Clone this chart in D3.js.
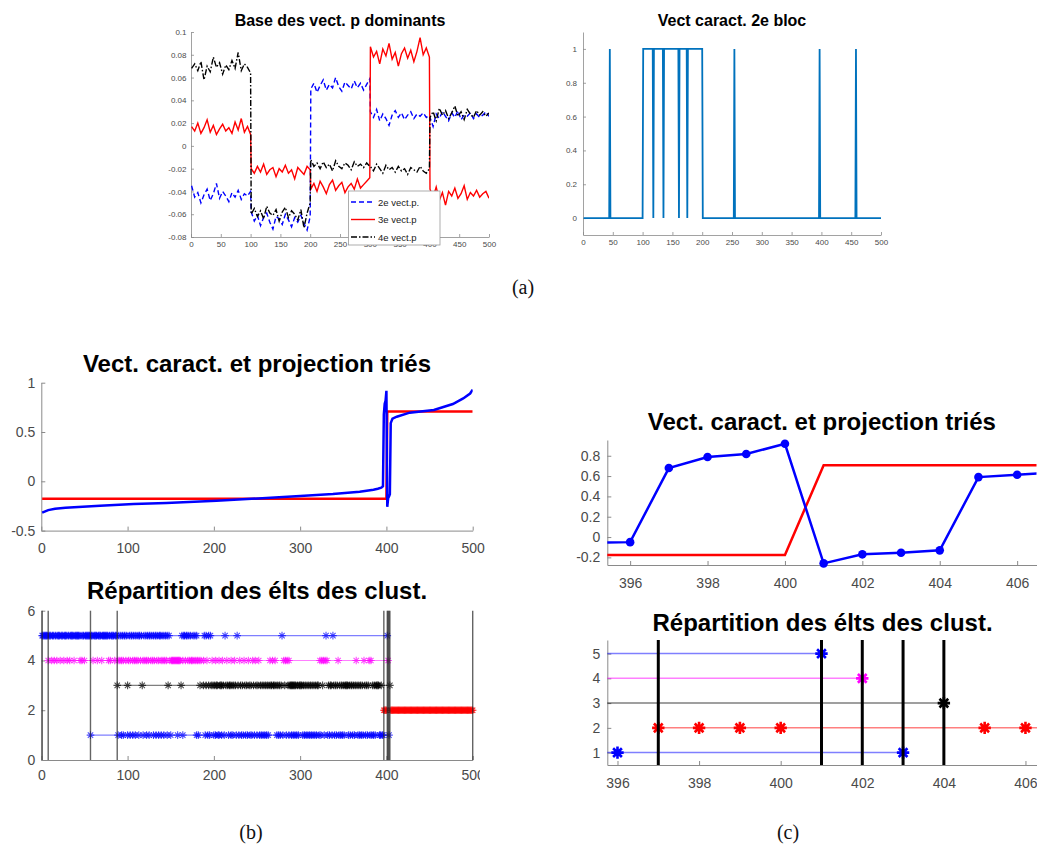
<!DOCTYPE html>
<html><head><meta charset="utf-8">
<script src="https://cdn.jsdelivr.net/npm/d3@7"></script>
<style>
body{margin:0;background:#fff}
svg{display:block}
text{font-family:"Liberation Sans",Arial,Helvetica,sans-serif}
</style>
</head><body>
<svg id="fig" width="1037" height="849"></svg>
<script>
// ===================== DATA =====================
// (a) left : dominant eigenvectors, 5 blocks of 100 indices, 20 samples read per block
const vec2 = [
 -0.035,-0.045,-0.041,-0.050,-0.043,-0.038,-0.048,-0.042,-0.033,-0.046,-0.040,-0.044,-0.049,-0.041,-0.045,-0.039,-0.047,-0.042,-0.044,-0.040,
 -0.058,-0.066,-0.061,-0.070,-0.063,-0.059,-0.067,-0.073,-0.062,-0.064,-0.069,-0.060,-0.065,-0.071,-0.063,-0.067,-0.061,-0.068,-0.074,-0.062,
 0.050,0.055,0.047,0.053,0.058,0.049,0.054,0.051,0.060,0.052,0.048,0.056,0.053,0.050,0.057,0.051,0.055,0.049,0.054,0.059,
 0.030,0.025,0.032,0.022,0.028,0.024,0.018,0.027,0.031,0.025,0.029,0.023,0.027,0.030,0.024,0.028,0.026,0.029,0.025,0.027,
 0.025,0.017,0.028,0.024,0.030,0.026,0.022,0.029,0.025,0.031,0.023,0.027,0.026,0.029,0.024,0.028,0.025,0.027,0.030,0.026];
const vec3 = [
 0.017,0.013,0.020,0.011,0.016,0.023,0.012,0.018,0.010,0.015,0.019,0.013,0.016,0.011,0.021,0.014,0.024,0.012,0.017,0.010,
 -0.020,-0.024,-0.018,-0.023,-0.016,-0.025,-0.021,-0.019,-0.027,-0.020,-0.023,-0.017,-0.024,-0.021,-0.029,-0.019,-0.022,-0.025,-0.018,-0.021,
 -0.038,-0.033,-0.040,-0.031,-0.036,-0.042,-0.034,-0.030,-0.039,-0.035,-0.032,-0.041,-0.036,-0.033,-0.038,-0.029,-0.037,-0.034,-0.031,-0.028,
 0.087,0.078,0.083,0.072,0.085,0.079,0.090,0.076,0.082,0.070,0.081,0.086,0.077,0.084,0.074,0.083,0.095,0.080,0.086,0.078,
 -0.038,-0.045,-0.036,-0.048,-0.041,-0.052,-0.040,-0.044,-0.037,-0.046,-0.042,-0.035,-0.047,-0.041,-0.044,-0.039,-0.045,-0.042,-0.040,-0.046];
const vec4 = [
 0.068,0.072,0.066,0.074,0.058,0.070,0.065,0.078,0.069,0.073,0.063,0.071,0.067,0.075,0.068,0.082,0.066,0.072,0.069,0.064,
 -0.060,-0.055,-0.062,-0.057,-0.064,-0.053,-0.059,-0.061,-0.056,-0.066,-0.058,-0.054,-0.063,-0.057,-0.060,-0.065,-0.056,-0.072,-0.059,-0.050,
 -0.012,-0.018,-0.015,-0.020,-0.014,-0.019,-0.016,-0.022,-0.013,-0.018,-0.020,-0.015,-0.017,-0.021,-0.014,-0.018,-0.016,-0.019,-0.015,-0.018,
 -0.018,-0.022,-0.016,-0.020,-0.024,-0.017,-0.021,-0.019,-0.023,-0.018,-0.022,-0.020,-0.025,-0.019,-0.021,-0.023,-0.018,-0.022,-0.024,-0.020,
 0.025,0.030,0.022,0.033,0.027,0.031,0.024,0.029,0.035,0.026,0.030,0.023,0.032,0.028,0.025,0.031,0.027,0.030,0.026,0.029];
const vecNames = ["2e vect.p.", "3e vect.p", "4e vect.p"];
const samplesPerBlock = 20;

// (a) right : characteristic vector of the 2nd block, runs of indices equal to 1
const blocRuns = [[45,45],[101,117],[119,134],[136,160],[162,174],[176,200],[254,254],[397,397],[458,458]];

// (b)/(c) top : sorted projection (blue) and indicator (red)
const projX = [1,8,16,28,68,107,145,203,261,300,338,369,385,390,394,395,396,397,398,399,400,401,402,403,404,405,406,407,412,427,455,477,489,497,500];
const projY = [-0.318,-0.292,-0.278,-0.268,-0.247,-0.230,-0.220,-0.197,-0.170,-0.149,-0.129,-0.105,-0.085,-0.075,-0.065,-0.058,-0.050,0.679,0.787,0.817,0.918,-0.259,-0.170,-0.154,-0.131,0.590,0.613,0.635,0.655,0.696,0.723,0.784,0.840,0.890,0.930];
const indX = [1,400,401,500];
const indY = [-0.1768,-0.1768,0.7071,0.7071];

// (b)/(c) bottom : positions of the elements of each cluster
const row5 = [1,2,3,4,5,6,7,9,10,11,13,14,16,17,19,20,21,23,24,25,27,28,29,31,32,34,35,36,37,39,40,41,42,43,44,46,48,49,51,52,53,54,55,56,58,59,61,62,63,64,66,67,68,69,71,72,73,74,75,76,77,79,81,82,83,84,86,87,90,92,94,96,97,99,102,104,105,107,109,111,113,114,116,119,121,123,125,126,128,130,132,133,135,137,138,140,142,144,146,148,163,165,166,168,169,171,173,176,178,180,189,191,194,196,213,227,279,330,338,401];
const row4 = [8,12,15,18,22,26,30,33,38,45,47,50,60,65,70,78,80,85,89,91,93,95,98,101,103,106,108,110,112,115,118,120,122,124,127,129,131,134,136,139,141,143,145,149,151,152,153,154,155,156,157,158,159,160,161,164,167,170,172,174,175,177,179,181,183,185,188,192,198,202,206,210,215,220,224,230,235,240,245,248,252,265,268,271,281,283,285,287,323,325,327,329,331,344,365,374,380,382,402];
const row3 = [88,100,117,147,162,184,188,191,194,197,199,201,203,204,207,208,209,211,214,216,218,219,221,223,225,228,231,233,236,238,241,243,246,249,251,254,256,258,260,262,264,266,267,269,270,272,274,276,278,282,286,288,289,290,291,292,293,294,295,297,299,300,301,302,304,306,308,310,312,314,316,318,320,321,326,333,335,336,339,341,343,346,348,350,352,353,354,355,357,359,360,362,364,366,368,370,372,375,377,379,384,386,388,389,390,391,394,404];
const row2 = [397,398,399,400].concat(d3.range(405, 501));
const row1 = [57,89,93,95,100,103,106,109,113,118,122,125,130,133,136,139,142,146,150,158,164,180,182,190,193,195,200,202,205,206,209,212,217,220,222,226,229,232,234,237,239,242,244,247,250,253,255,257,259,261,263,273,275,277,280,284,287,290,292,294,296,298,303,305,307,309,311,313,315,317,319,322,324,328,332,334,337,340,342,345,347,349,351,356,358,361,363,367,369,371,373,376,378,381,383,385,387,392,393,395,396,403];
const clusterRows = [row1,row2,row3,row4,row5];
const clusterColors = ["#0000ff","#ff0000","#000000","#ff00ff","#0000ff"];
const clusterBounds = [1,8,57,88,397,401,402,403,404,500];

// ticks
const aTicksX = [0,50,100,150,200,250,300,350,400,450,500];
const aLeftTicksY = [-0.08,-0.06,-0.04,-0.02,0,0.02,0.04,0.06,0.08,0.1];
const aRightTicksY = [0,0.2,0.4,0.6,0.8,1];
const bTicksX = [0,100,200,300,400,500];
const bTopTicksY = [-0.5,0,0.5,1];
const bBotTicksY = [0,2,4,6];
const cTicksX = [396,398,400,402,404,406];
const cTopTicksY = [-0.2,0,0.2,0.4,0.6,0.8];
const cBotTicksY = [1,2,3,4,5];

const titles = ["Base des vect. p dominants","Vect caract. 2e bloc","Vect. caract. et projection triés","Répartition des élts des clust."];
const captions = ["(a)","(b)","(c)"];

// ===================== DRAWING =====================
const AX = "#8a8a8a", LAB = "#4a4a4a";
const svg = d3.select("#fig");
let clipN = 0;
function addClip(x, y, w, h) {
  const id = "clip" + (clipN++);
  svg.append("clipPath").attr("id", id).append("rect").attr("x", x).attr("y", y).attr("width", w).attr("height", h);
  return `url(#${id})`;
}
function panel(root, o) {
  const g = root.append("g");
  const x = d3.scaleLinear().domain(o.xd).range([o.l, o.r]);
  const y = d3.scaleLinear().domain(o.yd).range([o.b, o.t]);
  const ax = g.append("g").attr("transform", `translate(0,${o.b})`)
    .call(d3.axisBottom(x).tickValues(o.xt).tickFormat(d => String(d)).tickSizeInner(-o.tl).tickSizeOuter(0).tickPadding(o.xp));
  const ay = g.append("g").attr("transform", `translate(${o.l},0)`)
    .call(d3.axisLeft(y).tickValues(o.yt).tickFormat(d => String(d)).tickSizeInner(-o.tl).tickSizeOuter(0).tickPadding(o.yp));
  [ax, ay].forEach(a => {
    a.select(".domain").attr("stroke", AX).attr("stroke-width", o.aw || 1);
    a.selectAll(".tick line").attr("stroke", AX).attr("stroke-width", o.aw || 1);
    a.selectAll(".tick text").attr("fill", LAB).style("font-size", o.fs + "px")
      .style("font-family", '"Liberation Sans",Arial,sans-serif');
  });
  g.append("text").attr("x", (o.l + o.r) / 2).attr("y", o.ty).attr("text-anchor", "middle")
    .style("font-weight", "bold").style("font-size", o.tfs + "px").attr("fill", "#000").text(o.title);
  const plot = g.append("g").attr("clip-path", addClip(o.l, o.t, o.r - o.l, o.b - o.t));
  const free = g.append("g");
  return {x, y, plot, free, g};
}
function starPath(r) {
  const a = r * 0.7071;
  return `M${-r},0L${r},0M0,${-r}L0,${r}M${-a},${-a}L${a},${a}M${-a},${a}L${a},${-a}`;
}

// ---------- (a) left ----------
{
  const p = panel(svg, {xd:[0,500], yd:[-0.08,0.1], l:191, r:489, t:32, b:237, xt:aTicksX, yt:aLeftTicksY,
    tl:3, xp:4.5, yp:4.5, fs:8, tfs:16, ty:26, title:titles[0], aw:0.8});
  const xs = vec2.map((_, k) => 100 * Math.floor(k / samplesPerBlock) + 1 + (k % samplesPerBlock) * 99 / (samplesPerBlock - 1));
  const series = [
    {v: vec2, c: "#0000ff", dash: "5,3"},
    {v: vec3, c: "#ff0000", dash: null},
    {v: vec4, c: "#000000", dash: "6,2,1.5,2"}];
  series.forEach(s => {
    p.plot.append("path").datum(s.v)
      .attr("d", d3.line().x((d, i) => p.x(xs[i])).y(d => p.y(d)))
      .attr("fill", "none").attr("stroke", s.c).attr("stroke-width", 1.4)
      .attr("stroke-dasharray", s.dash);
  });
  // legend
  const lg = p.free.append("g");
  lg.append("rect").attr("x", 348.5).attr("y", 191).attr("width", 91.5).attr("height", 54)
    .attr("fill", "#fff").attr("stroke", "#9a9a9a").attr("stroke-width", 0.8);
  const ly = [202, 219.5, 237];
  series.forEach((s, i) => {
    lg.append("line").attr("x1", 351).attr("x2", 375).attr("y1", ly[i]).attr("y2", ly[i])
      .attr("stroke", s.c).attr("stroke-width", 1.4).attr("stroke-dasharray", s.dash);
    lg.append("text").attr("x", 378).attr("y", ly[i] + 3.5).style("font-size", "9.5px").attr("fill", "#222").text(vecNames[i]);
  });
}

// ---------- (a) right ----------
{
  const p = panel(svg, {xd:[0,500], yd:[-0.1,1.1], l:583, r:881, t:32, b:235, xt:aTicksX, yt:aRightTicksY,
    tl:3, xp:4.5, yp:6, fs:8, tfs:16, ty:26, title:titles[1], aw:0.8});
  const series = d3.range(1, 501).map(i => ({i, v: blocRuns.some(([a, b]) => i >= a && i <= b) ? 1 : 0}));
  p.plot.append("path").datum(series)
    .attr("d", d3.line().x(d => p.x(d.i)).y(d => p.y(d.v)))
    .attr("fill", "none").attr("stroke", "#0072BD").attr("stroke-width", 1.8);
}

// ---------- (b) top ----------
{
  const p = panel(svg, {xd:[0,500], yd:[-0.5,1], l:41.3, r:472.7, t:382.7, b:530.6, xt:bTicksX, yt:bTopTicksY,
    tl:4, xp:12, yp:6, fs:14, tfs:24, ty:372, title:titles[2]});
  p.plot.append("path").datum(indX.map((d, i) => [d, indY[i]]))
    .attr("d", d3.line().x(d => p.x(d[0])).y(d => p.y(d[1])))
    .attr("fill", "none").attr("stroke", "#ff0000").attr("stroke-width", 2.5);
  p.plot.append("path").datum(projX.map((d, i) => [d, projY[i]]))
    .attr("d", d3.line().x(d => p.x(d[0])).y(d => p.y(d[1])))
    .attr("fill", "none").attr("stroke", "#0000ff").attr("stroke-width", 2.5);
}

// ---------- (b) bottom ----------
{
  const root = svg.append("g").attr("clip-path", addClip(0, 560, 480, 240));
  const p = panel(root, {xd:[0,500], yd:[0,6], l:41.3, r:472.7, t:610.7, b:760, xt:bTicksX, yt:bBotTicksY,
    tl:4, xp:10, yp:6, fs:14, tfs:24, ty:599, title:titles[3]});
  clusterRows.forEach((row, k) => {
    const c = clusterColors[k];
    p.plot.append("path").datum(row)
      .attr("d", d3.line().x(d => p.x(d)).y(() => p.y(k + 1)))
      .attr("fill", "none").attr("stroke", c).attr("stroke-opacity", 0.5).attr("stroke-width", 1.1);
    p.free.selectAll(null).data(row).join("path")
      .attr("transform", d => `translate(${p.x(d)},${p.y(k + 1)})`)
      .attr("d", starPath(3.8)).attr("fill", "none").attr("stroke", c)
      .attr("stroke-opacity", 0.7).attr("stroke-width", 1.1);
  });
  p.free.selectAll(null).data(clusterBounds).join("line")
    .attr("x1", d => p.x(d)).attr("x2", d => p.x(d)).attr("y1", p.y(0)).attr("y2", p.y(6))
    .attr("stroke", "#222").attr("stroke-opacity", 0.7).attr("stroke-width", 1.4);
}

// ---------- (c) top ----------
{
  const p = panel(svg, {xd:[395.41,406.5], yd:[-0.275,0.955], l:607.3, r:1036.5, t:440, b:565, xt:cTicksX, yt:cTopTicksY,
    tl:4, xp:13, yp:7, fs:14, tfs:24, ty:430, title:titles[2]});
  p.plot.append("path").datum(indX.map((d, i) => [d, indY[i]]))
    .attr("d", d3.line().x(d => p.x(d[0])).y(d => p.y(d[1])))
    .attr("fill", "none").attr("stroke", "#ff0000").attr("stroke-width", 2.5);
  const pts = projX.map((d, i) => [d, projY[i]]);
  p.plot.append("path").datum(pts)
    .attr("d", d3.line().x(d => p.x(d[0])).y(d => p.y(d[1])))
    .attr("fill", "none").attr("stroke", "#0000ff").attr("stroke-width", 2.5);
  const [x0, x1] = p.x.domain();
  p.free.selectAll(null).data(pts.filter(d => d[0] >= x0 && d[0] <= x1)).join("circle")
    .attr("cx", d => p.x(d[0])).attr("cy", d => p.y(d[1])).attr("r", 4.3).attr("fill", "#0000ff");
}

// ---------- (c) bottom ----------
{
  const p = panel(svg, {xd:[395.75,406.3], yd:[0.5,5.55], l:607.3, r:1037.7, t:640, b:765, xt:cTicksX, yt:cBotTicksY,
    tl:4, xp:13, yp:7, fs:14, tfs:24, ty:631, title:titles[3]});
  const [x0, x1] = p.x.domain();
  clusterRows.forEach((row, k) => {
    const c = clusterColors[k];
    p.plot.append("path").datum(row)
      .attr("d", d3.line().x(d => p.x(d)).y(() => p.y(k + 1)))
      .attr("fill", "none").attr("stroke", c).attr("stroke-opacity", 0.5).attr("stroke-width", 1.5);
    p.free.selectAll(null).data(row.filter(d => d >= x0 && d <= x1)).join("path")
      .attr("transform", d => `translate(${p.x(d)},${p.y(k + 1)})`)
      .attr("d", starPath(6.2)).attr("fill", "none").attr("stroke", c).attr("stroke-width", 2.6);
  });
  p.free.selectAll(null).data(clusterBounds.filter(d => d >= x0 && d <= x1)).join("line")
    .attr("x1", d => p.x(d)).attr("x2", d => p.x(d)).attr("y1", p.y(0.5)).attr("y2", p.y(5.55))
    .attr("stroke", "#000").attr("stroke-width", 3);
}

// ---------- captions ----------
const capPos = [[523, 294], [251, 839], [788, 839]];
captions.forEach((c, i) => {
  svg.append("text").attr("x", capPos[i][0]).attr("y", capPos[i][1]).attr("text-anchor", "middle")
    .style("font-family", '"Liberation Serif","DejaVu Serif",serif').style("font-size", "20px").attr("fill", "#111").text(c);
});
</script>
</body></html>
